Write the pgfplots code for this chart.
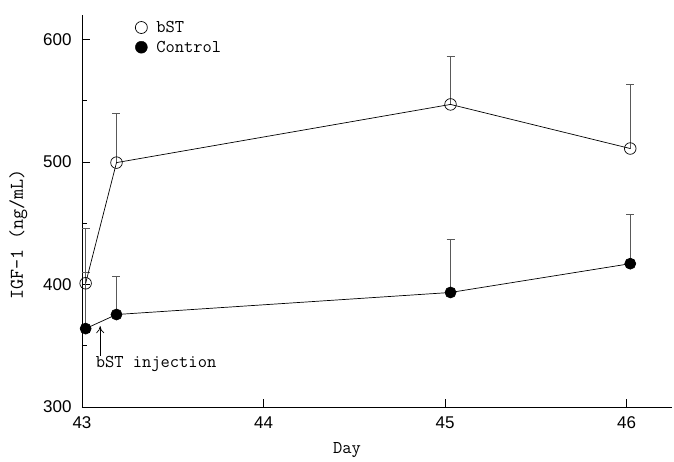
\documentclass[border=0pt]{standalone}
\usepackage{fontspec}
\newfontfamily\tickfont{Liberation Sans}
\usepackage{pgfplots}
\pgfplotsset{compat=1.18}
\usetikzlibrary{arrows.meta}
\begin{document}
\begin{tikzpicture}[x=1pt,y=1pt]
\begin{axis}[
  scale only axis,
  width=590pt, height=392pt,
  xmin=43, xmax=46.25,
  ymin=300, ymax=620,
  axis lines*=left,
  axis line style={line width=0.8pt},
  xtick={43,44,45,46},
  ytick={300,400,500,600},
  minor ytick={350,450,550},
  tick align=inside,
  major tick length=8pt,
  minor tick length=5pt,
  tick style={black, line width=0.7pt},
  /pgf/number format/assume math mode=true,
  ticklabel style={font=\tickfont\fontsize{17}{19}\selectfont},
  xticklabel style={yshift=-6pt},
  yticklabel style={xshift=-7pt},
  label style={font=\ttfamily\fontsize{18}{20}\selectfont},
  xlabel={Day},
  xlabel style={at={(axis description cs:0.449,-0.11)}, anchor=center},
  ylabel={IGF-1 (ng/mL)},
  ylabel style={at={(axis description cs:-0.108,0.44)}, anchor=center, font=\ttfamily\fontsize{19.5}{21}\selectfont},
  legend style={at={(axis description cs:0.085,0.995)}, anchor=north west, draw=none, fill=none,
    font=\ttfamily\fontsize{18}{20}\selectfont, row sep=3pt},
  legend cell align=left,
  clip=false,
]
\addlegendimage{only marks, mark=o, mark size=6pt, mark options={black, fill=white, line width=0.7pt}}
\addlegendentry{\hspace{7pt}bST}
\addlegendimage{only marks, mark=*, mark size=6pt, mark options={black, fill=black}}
\addlegendentry{\hspace{7pt}Control}

% error bars (upper only)
\addplot[forget plot, draw=none, mark=none, gray!70!black, line width=0.7pt,
  error bars/.cd, y dir=plus, y explicit,
  error bar style={gray!70!black, line width=0.7pt},
  error mark options={rotate=90, mark size=4pt, gray!70!black, line width=0.7pt}]
  coordinates {
  (43.02,364) +- (0,46)
  (43.19,375.5) +- (0,31)
  (45.03,393.5) +- (0,43.5)
  (46.02,417) +- (0,40)
};
\addplot[forget plot, draw=none, mark=none, gray!70!black, line width=0.7pt,
  error bars/.cd, y dir=plus, y explicit,
  error bar style={gray!70!black, line width=0.7pt},
  error mark options={rotate=90, mark size=4pt, gray!70!black, line width=0.7pt}]
  coordinates {
  (43.02,401) +- (0,45)
  (43.19,499.5) +- (0,40)
  (45.03,547) +- (0,39)
  (46.02,511) +- (0,52)
};

% Control
\addplot[forget plot, black, line width=0.7pt, mark=*, mark size=5.5pt,
  mark options={fill=black}]
  coordinates {(43.02,364) (43.19,375.5) (45.03,393.5) (46.02,417)};
% bST
\addplot[forget plot, black, line width=0.7pt, mark=o, mark size=5.8pt,
  mark options={fill=white}]
  coordinates {(43.02,401) (43.19,499.5) (45.03,547) (46.02,511)};

\draw[-{To[length=7pt,width=8pt]}, line width=0.7pt] (axis cs:43.1,342) -- (axis cs:43.1,366);
\node[anchor=west, font=\ttfamily\fontsize{18}{20}\selectfont, inner sep=0pt] at (axis cs:43.075,335) {bST injection};

\coordinate (bbsw) at ([xshift=-82pt, yshift=-50pt]current axis.south west);
\coordinate (bbne) at ([xshift=2pt, yshift=15pt]current axis.north east);
\end{axis}
\useasboundingbox (bbsw) rectangle (bbne);
\end{tikzpicture}
\end{document}
